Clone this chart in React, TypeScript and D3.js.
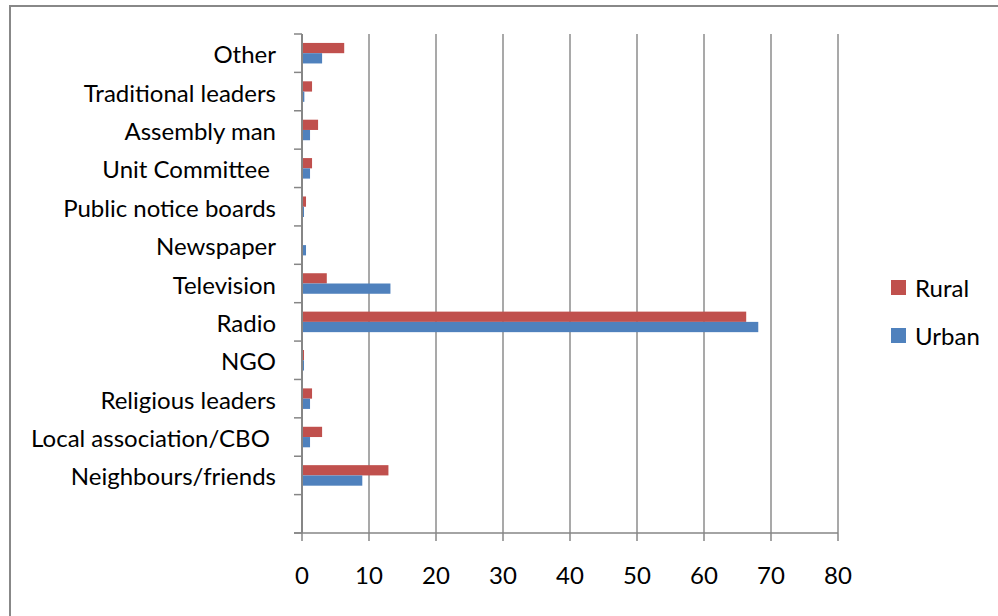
import React from "react";
import * as d3 from "d3";

const categories = [
  "Other",
  "Traditional leaders",
  "Assembly man",
  "Unit Committee ",
  "Public notice boards",
  "Newspaper",
  "Television",
  "Radio",
  "NGO",
  "Religious leaders",
  "Local association/CBO ",
  "Neighbours/friends",
  " ",
];
const rural = [6.3, 1.5, 2.4, 1.5, 0.6, 0, 3.7, 66.3, 0.3, 1.5, 3.0, 12.9, 0];
const urban = [3.0, 0.35, 1.2, 1.2, 0.3, 0.6, 13.2, 68.1, 0.3, 1.2, 1.2, 9.0, 0];
const seriesNames = ["Rural", "Urban"];
const seriesColors = ["#C0504D", "#4F81BD"];
const xTicks = [0, 10, 20, 30, 40, 50, 60, 70, 80];

const W = 998;
const H = 616;
const FONT = "Lato, 'Noto Sans', sans-serif";
const FS = 24;

export default function App() {
  const x = d3.scaleLinear().domain([0, 80]).range([302, 838]);
  const y = d3.scaleBand<string>().domain(categories).range([34, 533]).padding(0);
  const inner = d3
    .scaleBand<string>()
    .domain(seriesNames)
    .range([0, y.bandwidth()])
    .paddingInner(0)
    .paddingOuter(0.87);
  const values = [rural, urban];
  const axisColor = "#868686";
  const tickYs = categories.map((c) => y(c) as number).concat([y.range()[1]]);

  return (
    <svg
      width={W}
      height={H}
      style={{ position: "fixed", left: 0, top: 0, background: "#fff" }}
      fontFamily={FONT}
    >
      <rect x={0} y={0} width={W} height={H} fill="#fff" />
      <rect x={10} y={6} width={W + 20} height={H + 20} fill="none" stroke="#888" strokeWidth={2} />

      {/* gridlines */}
      {xTicks.slice(1).map((t) => (
        <line key={"g" + t} x1={x(t)} x2={x(t)} y1={y.range()[0]} y2={y.range()[1]} stroke="#8c8c8c" strokeWidth={1.5} />
      ))}

      {/* bars */}
      {categories.map((c, i) =>
        seriesNames.map((s, j) => {
          const v = values[j][i];
          if (!v) return null;
          return (
            <rect
              key={c + s}
              x={x(0)}
              y={(y(c) as number) + (inner(s) as number)}
              width={x(v) - x(0)}
              height={inner.bandwidth()}
              fill={seriesColors[j]}
            />
          );
        })
      )}

      {/* y axis */}
      <line x1={x(0)} x2={x(0)} y1={y.range()[0]} y2={y.range()[1]} stroke={axisColor} strokeWidth={2} />
      {tickYs.map((ty, i) => (
        <line key={"yt" + i} x1={x(0) - 8} x2={x(0)} y1={ty} y2={ty} stroke={axisColor} strokeWidth={1.5} />
      ))}
      {categories.map((c) => (
        <text
          key={"l" + c}
          x={276}
          y={(y(c) as number) + y.bandwidth() / 2 + 10}
          textAnchor="end"
          fontSize={FS}
          fill="#000"
          style={{ whiteSpace: "pre" }}
        >
          {c}
        </text>
      ))}

      {/* x axis */}
      <line x1={x(0) - 8} x2={x(80)} y1={y.range()[1]} y2={y.range()[1]} stroke={axisColor} strokeWidth={1.5} />
      {xTicks.map((t) => (
        <line key={"xt" + t} x1={x(t)} x2={x(t)} y1={y.range()[1]} y2={y.range()[1] + 8} stroke={axisColor} strokeWidth={1.5} />
      ))}
      {xTicks.map((t) => (
        <text key={"xl" + t} x={x(t)} y={584} textAnchor="middle" fontSize={FS} fill="#000">
          {t}
        </text>
      ))}

      {/* legend */}
      {seriesNames.map((s, j) => (
        <g key={"lg" + s} transform={`translate(891, ${280 + j * 48})`}>
          <rect x={0} y={0} width={15} height={15} fill={seriesColors[j]} />
          <text x={24} y={17} fontSize={FS} fill="#000">
            {s}
          </text>
        </g>
      ))}
    </svg>
  );
}
